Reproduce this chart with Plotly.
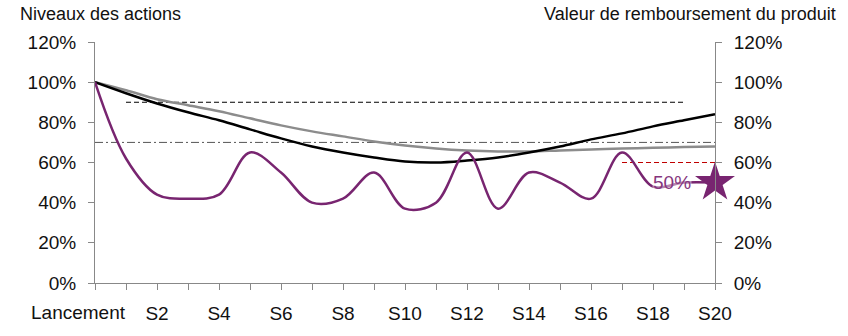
import plotly.graph_objects as go

categories = ["Lancement"] + [f"S{i}" for i in range(1, 21)]
actions_purple = [100, 62, 44, 42, 44, 65, 55, 40, 42, 55, 37, 40, 65, 37, 55, 50, 42, 65, 48, 50, 50]
actions_black = [100, 94.5, 89.4, 85, 81, 76.5, 72, 68, 65, 62.5, 60.5, 60, 61, 62.5, 65, 68, 71.5, 74.5, 78, 81, 84]
actions_gray = [100, 96, 91.5, 88.5, 85.5, 82, 78.5, 75.5, 73, 70.5, 68.5, 67, 66, 65.5, 65.5, 66, 66.5, 67, 67.3, 67.7, 68]
y_ticks = [0, 20, 40, 60, 80, 100, 120]
coupon_level = 90
coupon_span = ["S1", "S19"]
protection_level = 70
autocall_level = 60
autocall_span = ["S17", "S20"]
final_value = 50
final_label = "50%"

PURPLE = "#782570"
FONT = "Liberation Sans, Arial, sans-serif"
idx = {c: i for i, c in enumerate(categories)}
xs = list(range(len(categories)))

W, H = 848, 336
L, R, T, B = 95, 133, 42, 47


def px(x, y):
    return (x - L) / (W - L - R), (H - B - y) / (H - T - B)


fig = go.Figure()

# reference levels
fig.add_trace(go.Scatter(x=[idx[coupon_span[0]], idx[coupon_span[1]]], y=[coupon_level] * 2,
                         mode="lines", line=dict(color="#000", width=1, dash="5px,3px"),
                         hoverinfo="skip", showlegend=False))
fig.add_trace(go.Scatter(x=[xs[0], xs[-1]], y=[protection_level] * 2,
                         mode="lines", line=dict(color="#555", width=1, dash="8px,3px,2px,3px"),
                         hoverinfo="skip", showlegend=False))
fig.add_trace(go.Scatter(x=[idx[autocall_span[0]], idx[autocall_span[1]]], y=[autocall_level] * 2,
                         mode="lines", line=dict(color="#C00000", width=1, dash="5px,3px"),
                         hoverinfo="skip", showlegend=False))

fig.add_trace(go.Scatter(x=xs, y=actions_gray, mode="lines",
                         line=dict(color="#8C8C8C", width=2.5, shape="spline", smoothing=1),
                         showlegend=False))
fig.add_trace(go.Scatter(x=xs, y=actions_black, mode="lines",
                         line=dict(color="#000", width=2.5, shape="spline", smoothing=1),
                         showlegend=False))
fig.add_trace(go.Scatter(x=xs, y=actions_purple, mode="lines",
                         line=dict(color=PURPLE, width=2.5, shape="spline", smoothing=1),
                         showlegend=False))
fig.add_trace(go.Scatter(x=[xs[-1]], y=[final_value], mode="markers", yaxis="y2",
                         marker=dict(symbol="star", size=30, color=PURPLE, line=dict(width=0)),
                         cliponaxis=False, showlegend=False))

fig.add_annotation(x=idx["S18"] + 0.6, y=final_value, text=final_label, showarrow=False,
                   font=dict(family=FONT, size=19, color="#85357D"), bgcolor="rgba(255,255,255,0.45)",
                   borderpad=0)

ax, ay = px(18, 13)
fig.add_annotation(x=ax, y=ay, xref="paper", yref="paper", text="Niveaux des actions",
                   showarrow=False, xanchor="left", yanchor="middle",
                   font=dict(family=FONT, size=18, color="#111"))
ax, ay = px(542, 13)
fig.add_annotation(x=ax, y=ay, xref="paper", yref="paper", text="Valeur de remboursement du produit",
                   showarrow=False, xanchor="left", yanchor="middle",
                   font=dict(family=FONT, size=18, color="#111"))
ax, ay = px(128, 319)
fig.add_annotation(x=ax, y=ay, xref="paper", yref="paper", text=categories[0],
                   showarrow=False, xanchor="right", yanchor="middle",
                   font=dict(family=FONT, size=19, color="#111"))

axis_common = dict(range=[0, 120], tickvals=y_ticks, ticktext=[f"{v}%" for v in y_ticks],
                   showgrid=False, zeroline=False, showline=True, linecolor="#888", linewidth=1,
                   ticks="outside", ticklen=6, tickcolor="#888",
                   tickfont=dict(family=FONT, size=19, color="#111"), ticklabelstandoff=8)

fig.update_layout(
    width=W, height=H, margin=dict(l=L, r=R, t=T, b=B),
    paper_bgcolor="white", plot_bgcolor="white",
    xaxis=dict(range=[0, 20], tickvals=xs,
               ticktext=[c if (i % 2 == 0 and i > 0) else "" for i, c in enumerate(categories)],
               showgrid=False, zeroline=False, showline=True, linecolor="#888", linewidth=1,
               ticks="outside", ticklen=6, tickcolor="#888",
               tickfont=dict(family=FONT, size=19, color="#111"), ticklabelstandoff=7),
    yaxis=dict(**axis_common, side="left"),
    yaxis2=dict(**axis_common, side="right", overlaying="y"),
)

fig.write_html("out.html")
